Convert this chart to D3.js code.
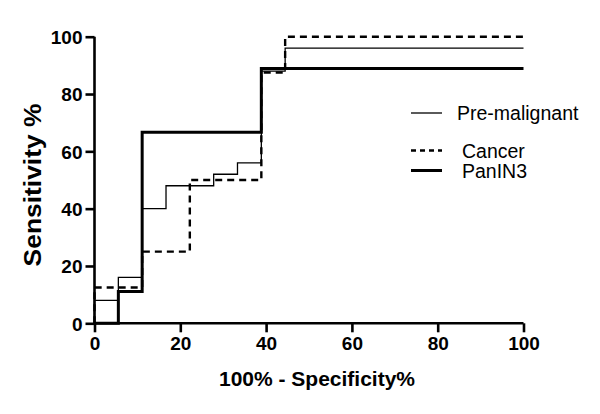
<!DOCTYPE html>
<html>
<head>
<meta charset="utf-8">
<script src="https://cdn.jsdelivr.net/npm/d3@7"></script>
<style>
  body { margin: 0; background: #fff; }
  text { font-family: "Liberation Sans", Arial, sans-serif; fill: #000; }
</style>
</head>
<body>
<script>
// ROC curves, points are (100% - specificity, sensitivity) corners of the steps
var preX = [0, 0, 5.56, 11.11, 16.67, 27.78, 33.33, 38.89, 44.44, 100];
var preY = [0, 8, 16, 40, 48, 52, 56, 88, 96, 96];

var cancerX = [0, 0, 11.11, 22.22, 38.89, 44.44, 100];
var cancerY = [0, 12.5, 25, 50, 87.5, 100, 100];

var panX = [0, 5.56, 11.11, 38.89, 100];
var panY = [0, 11.11, 66.67, 88.89, 88.89];

var tickVals = [0, 20, 40, 60, 80, 100];
var seriesNames = ["Pre-malignant", "Cancer", "PanIN3"];

var W = 600, H = 414;
var svg = d3.select("body").append("svg")
            .attr("width", W)
            .attr("height", H);

var x = d3.scaleLinear().domain([0, 100]).range([94.5, 523.5]);
var y = d3.scaleLinear().domain([0, 100]).range([323.3, 36.7]);

function zip(xs, ys) {
  return xs.map(function(v, i) { return [v, ys[i]]; });
}

var line = d3.line()
             .x(function(d) { return x(d[0]); })
             .y(function(d) { return y(d[1]); })
             .curve(d3.curveStepAfter);

var series = [
  {name: seriesNames[0], pts: zip(preX, preY), w: 1.3, dash: null},
  {name: seriesNames[1], pts: zip(cancerX, cancerY), w: 2.4, dash: "7,5"},
  {name: seriesNames[2], pts: zip(panX, panY), w: 3, dash: null}
];

series.forEach(function(s) {
  svg.append("path")
     .attr("d", line(s.pts))
     .attr("fill", "none")
     .attr("stroke", "#000")
     .attr("stroke-width", s.w)
     .attr("stroke-dasharray", s.dash);
});

// axes
var xAxis = svg.append("g")
               .attr("transform", "translate(0," + y(0) + ")")
               .call(d3.axisBottom(x).tickValues(tickVals).tickSize(9).tickPadding(3));
var yAxis = svg.append("g")
               .attr("transform", "translate(" + x(0) + ",0)")
               .call(d3.axisLeft(y).tickValues(tickVals).tickSize(9).tickPadding(3));

[xAxis, yAxis].forEach(function(a) {
  a.select(".domain").attr("stroke-width", 2.6).attr("stroke", "#000");
  a.selectAll(".tick line").attr("stroke-width", 2.6).attr("stroke", "#000");
  a.selectAll(".tick text")
   .style("font-family", "'Liberation Sans', Arial, sans-serif")
   .style("font-size", "19px")
   .style("font-weight", "bold")
   .attr("fill", "#000");
});
xAxis.select(".domain").attr("d", "M" + x(0) + ",0H" + x(100));
yAxis.select(".domain").attr("d", "M0," + y(0) + "V" + y(100));

xAxis.selectAll(".tick text").attr("dy", "0.78em");
yAxis.selectAll(".tick text").attr("dy", "0.36em");

// titles
svg.append("text")
   .attr("transform", "translate(317,378)")
   .attr("dy", "0.36em")
   .attr("text-anchor", "middle")
   .style("font-size", "21px")
   .style("font-weight", "bold")
   .text("100% - Specificity%");

svg.append("text")
   .attr("transform", "translate(32,185) rotate(-90) scale(1.1,1)")
   .attr("dy", "0.36em")
   .attr("text-anchor", "middle")
   .style("font-size", "24px")
   .style("font-weight", "bold")
   .text("Sensitivity %");

// legend
var legY = [113, 150.5, 170.5];
var legTextX = [457, 462, 462];
var legDash = [null, "5,4", null];
series.forEach(function(s, i) {
  svg.append("line")
     .attr("x1", 411).attr("x2", 442)
     .attr("y1", legY[i]).attr("y2", legY[i])
     .attr("stroke", "#000")
     .attr("stroke-width", s.w)
     .attr("stroke-dasharray", legDash[i]);
  svg.append("text")
     .attr("x", legTextX[i])
     .attr("y", legY[i])
     .attr("dy", "0.36em")
     .style("font-size", "19.5px")
     .text(s.name);
});
</script>
</body>
</html>
